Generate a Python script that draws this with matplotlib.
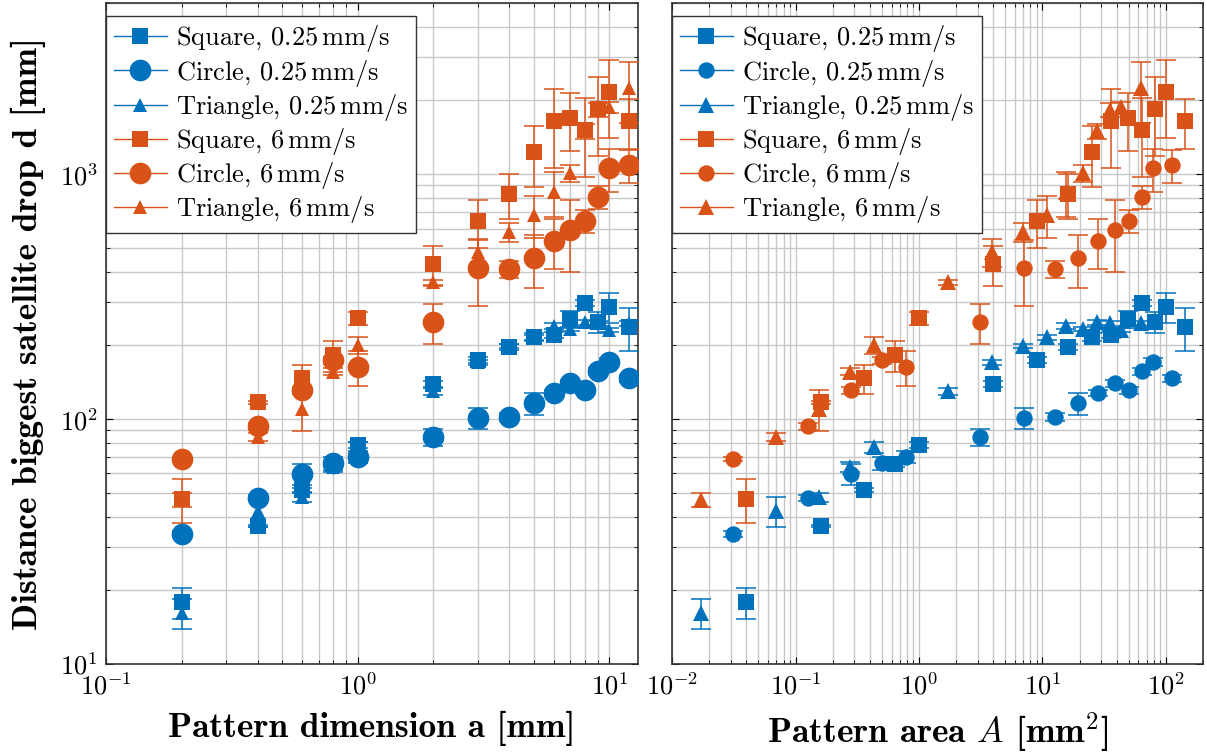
import numpy as np
import matplotlib
matplotlib.use("Agg")
import matplotlib.pyplot as plt
from matplotlib.lines import Line2D

plt.rcParams['font.family'] = ['cmr10', 'DejaVu Serif']
plt.rcParams['mathtext.fontset'] = 'cm'
plt.rcParams['axes.formatter.use_mathtext'] = True
plt.rcParams['axes.unicode_minus'] = False

BLUE = '#0072BD'
ORANGE = '#D95319'

# pattern dimension a [mm]
dim = [0.2, 0.4, 0.6, 0.8, 1, 2, 3, 4, 5, 6, 7, 8, 9, 10, 12]
# pattern area A [mm^2]
area_square = [0.04, 0.16, 0.36, 0.64, 1.0, 4.0, 9.0, 16.0, 25.0, 36.0, 49.0, 64.0, 81.0, 100.0, 144.0]
area_circle = [0.0314, 0.126, 0.283, 0.503, 0.785, 3.14, 7.07, 12.6, 19.6, 28.3, 38.5, 50.3, 63.6, 78.5, 113.1]
area_triangle = [0.0173, 0.0693, 0.156, 0.277, 0.433, 1.73, 3.90, 6.93, 10.8, 15.6, 21.2, 27.7, 35.1, 43.3, 62.4]

# distance biggest satellite drop d [mm] and errors
sq_slow = [17.9, 36.6, 51.3, 65.5, 78.3, 139, 174, 197, 216, 220, 256, 297, 249, 286, 237]
sq_slow_err = [2.6, 0.5, 0.8, 1.5, 2, 4, 5, 5, 8, 6, 20, 8, 25, 40, 48]
ci_slow = [33.9, 47.6, 59.6, 66.1, 70.0, 84.4, 101, 102, 116, 128, 140, 131, 157, 171, 147]
ci_slow_err = [1, 1.5, 6, 4, 4, 7, 10, 4, 12, 4, 5, 4, 5, 6, 5]
tr_slow = [16.2, 42.1, 48.0, 63.7, 76.9, 130, 171, 199, 216, 240, 233, 249, 246, 231, 246]
tr_slow_err = [2.3, 6, 2, 3, 4, 4, 4, 4, 5, 6, 5, 6, 6, 5, 6]

sq_fast = [47.2, 117, 147, 182, 258, 429, 643, 829, 1230, 1646, 1693, 1512, 1842, 2161, 1646]
sq_fast_err = [9.5, 1.5, 20, 27, 15, 78, 145, 170, 340, 585, 450, 540, 655, 758, 380]
ci_fast = [68.7, 93.6, 131, 174, 163, 249, 413, 409, 454, 533, 591, 643, 806, 1058, 1088]
ci_fast_err = [1, 3, 4, 6, 27, 46, 124, 32, 112, 124, 192, 70, 87, 213, 170]
tr_fast = [46.7, 84.4, 110, 156, 200, 362, 480, 580, 680, 844, 1010, 1498, 1825, 1877, 2244]
tr_fast_err = [3, 3, 21, 5, 16, 8, 63, 50, 133, 175, 80, 100, 120, 100, 620]

labels = ['Square, $0.25\\,\\mathrm{mm/s}$', 'Circle, $0.25\\,\\mathrm{mm/s}$',
          'Triangle, $0.25\\,\\mathrm{mm/s}$', 'Square, $6\\,\\mathrm{mm/s}$',
          'Circle, $6\\,\\mathrm{mm/s}$', 'Triangle, $6\\,\\mathrm{mm/s}$']

fig = plt.figure(figsize=(12.07, 7.53), dpi=100)
ax1 = fig.add_axes([0.0878, 0.1182, 0.4408, 0.8778])
ax2 = fig.add_axes([0.5568, 0.1182, 0.4399, 0.8778])


def draw(ax, xs, sizes):
    series = [
        (xs[0], sq_slow, sq_slow_err, BLUE, 's', sizes[0]),
        (xs[1], ci_slow, ci_slow_err, BLUE, 'o', sizes[1]),
        (xs[2], tr_slow, tr_slow_err, BLUE, '^', sizes[2]),
        (xs[0], sq_fast, sq_fast_err, ORANGE, 's', sizes[0]),
        (xs[1], ci_fast, ci_fast_err, ORANGE, 'o', sizes[1]),
        (xs[2], tr_fast, tr_fast_err, ORANGE, '^', sizes[2]),
    ]
    handles = []
    for x, y, e, c, m, ms in series:
        line, caps, bars = ax.errorbar(x, y, yerr=e, fmt=m, color=c, ms=ms, mec=c,
                                       ecolor=c, elinewidth=1.1, capsize=7,
                                       capthick=1.1, zorder=3)
        line.set_markeredgewidth(0)
        handles.append(Line2D([], [], color=c, lw=1.0, marker=m, ms=ms, mec=c, mew=0))
    ax.set_xscale('log')
    ax.set_yscale('log')
    ax.set_ylim(10, 5000)
    ax.grid(True, which='both', color='#c8c8c8', lw=1.0, zorder=0)
    ax.set_axisbelow(True)
    ax.tick_params(which='both', direction='in', top=True, right=True, labelsize=19)
    ax.tick_params(which='major', length=5, pad=6)
    ax.tick_params(which='minor', length=3)
    for s in ax.spines.values():
        s.set_linewidth(1.2)
        s.set_color('#333333')
    leg = ax.legend(handles, labels, loc='upper left', bbox_to_anchor=(0.0, 0.981),
                    borderaxespad=0, fontsize=19, fancybox=False, framealpha=1,
                    edgecolor='#333333', handlelength=2.0, handletextpad=0.35,
                    labelspacing=0.12, borderpad=0.3)
    leg.get_frame().set_linewidth(1.0)
    leg.set_zorder(10)


draw(ax1, [dim, dim, dim], [11.3, 15.6, 10])
draw(ax2, [area_square, area_circle, area_triangle], [11.3, 11.8, 12])

ax1.set_xlim(0.1, 13)
ax2.set_xlim(0.01, 200)
ax2.tick_params(labelleft=False)

ax1.set_xlabel('Pattern dimension a [mm]', fontsize=25.5, family='cmb10', labelpad=8)
ax2.set_xlabel('Pattern area $A$ [mm$^{\\mathbf{2}}$]', fontsize=25.5, family='cmb10', labelpad=8)
ax1.set_ylabel('Distance biggest satellite drop d [mm]', fontsize=25.5, family='cmb10', labelpad=10)

fig.savefig('out.png', dpi=100)
